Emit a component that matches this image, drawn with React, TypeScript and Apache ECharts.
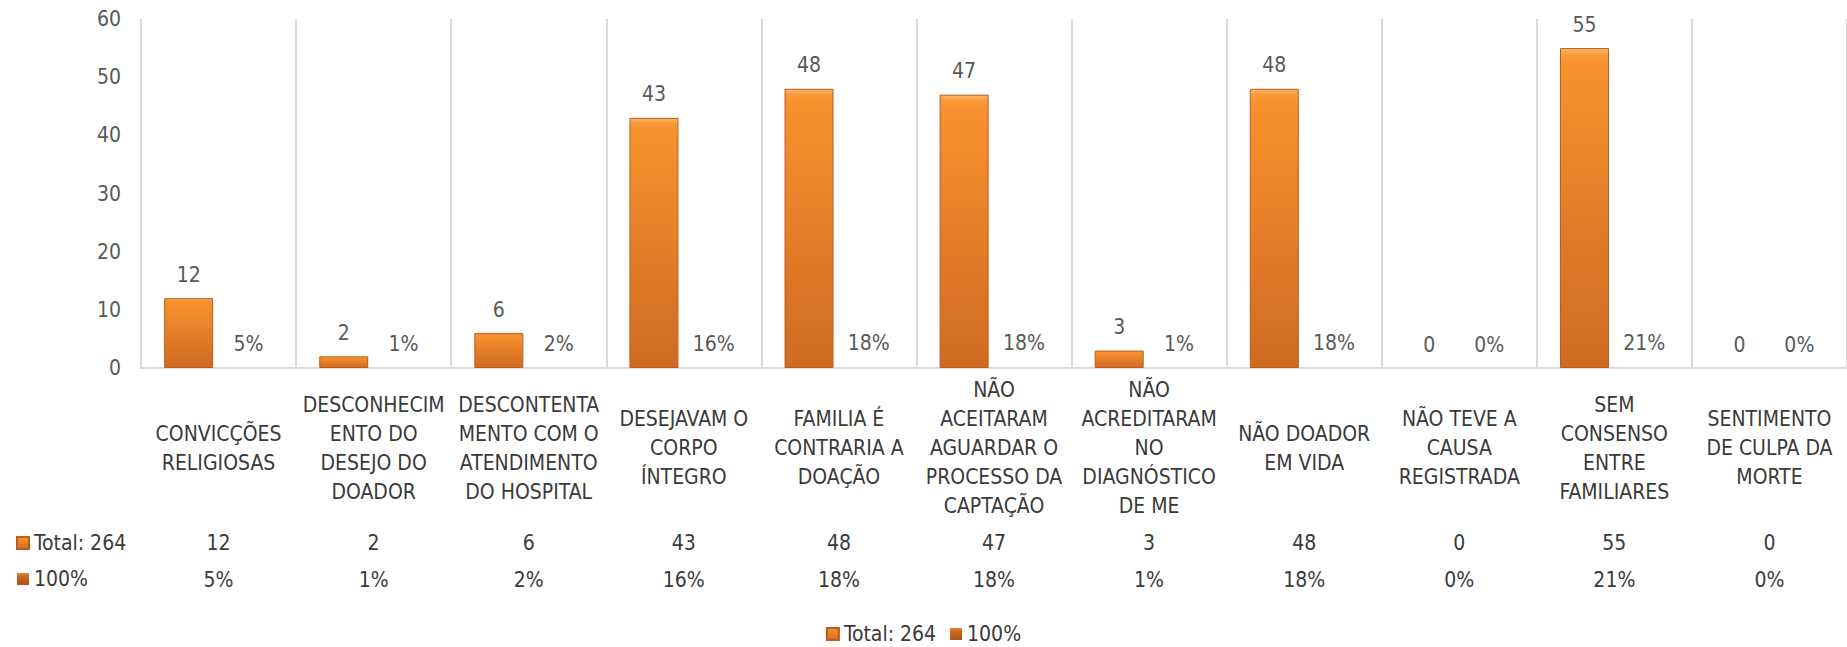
import React, { useEffect, useRef } from "react";
import * as echarts from "echarts";

const categories = [
  "CONVICÇÕES\nRELIGIOSAS",
  "DESCONHECIM\nENTO DO\nDESEJO DO\nDOADOR",
  "DESCONTENTA\nMENTO COM O\nATENDIMENTO\nDO HOSPITAL",
  "DESEJAVAM O\nCORPO\nÍNTEGRO",
  "FAMILIA É\nCONTRARIA A\nDOAÇÃO",
  "NÃO\nACEITARAM\nAGUARDAR O\nPROCESSO DA\nCAPTAÇÃO",
  "NÃO\nACREDITARAM\nNO\nDIAGNÓSTICO\nDE ME",
  "NÃO DOADOR\nEM VIDA",
  "NÃO TEVE A\nCAUSA\nREGISTRADA",
  "SEM\nCONSENSO\nENTRE\nFAMILIARES",
  "SENTIMENTO\nDE CULPA DA\nMORTE",
];
const totals = [12, 2, 6, 43, 48, 47, 3, 48, 0, 55, 0];
const percents = [5, 1, 2, 16, 18, 18, 1, 18, 0, 21, 0];
const seriesNames = ["Total: 264", "100%"];
const yTicks = { min: 0, max: 60, interval: 10 };

const FONT = "'Liberation Sans Narrow', 'DejaVu Sans Condensed', Roboto, sans-serif";
const FS = 21;
const GRAY = "#595959";
const DARK = "#3a3a3a";
const HIDDEN = { color: "rgba(0,0,0,0)", borderWidth: 0 };

export default function App() {
  const ref = useRef<HTMLDivElement>(null);
  useEffect(() => {
    const chart = echarts.init(ref.current!, null, { renderer: "svg" });
    const orangeGrad = new echarts.graphic.LinearGradient(0, 0, 0, 1, [
      { offset: 0, color: "#FCB86A" },
      { offset: 0.02, color: "#F99A3A" },
      { offset: 0.05, color: "#F8912E" },
      { offset: 1, color: "#D06A22" },
    ]);
    const brownGrad = new echarts.graphic.LinearGradient(0, 0, 0, 1, [
      { offset: 0, color: "#E08A3A" },
      { offset: 0.3, color: "#C8691E" },
      { offset: 1, color: "#A8531A" },
    ]);
    const commonAxisHidden = {
      axisLine: { show: false },
      axisTick: { show: false },
      splitLine: { show: false },
    };
    const legendText = { fontFamily: FONT, fontSize: FS, color: DARK, lineHeight: 24 };
    chart.setOption({
      animation: false,
      textStyle: { fontFamily: FONT },
      grid: { left: 141, right: -10, top: 19, bottom: 279, containLabel: false },
      legend: [
        {
          data: seriesNames,
          icon: "rect",
          left: "center",
          top: 622,
          padding: 0,
          itemWidth: 12,
          itemHeight: 12,
          itemGap: 14,
          textStyle: legendText,
        },
        {
          data: seriesNames,
          icon: "rect",
          orient: "vertical",
          left: 16,
          top: 531,
          padding: 0,
          itemWidth: 12,
          itemHeight: 12,
          itemGap: 12,
          textStyle: legendText,
        },
      ],
      xAxis: [
        {
          type: "category",
          data: categories,
          position: "bottom",
          axisLine: { show: true, lineStyle: { color: "#D9D9D9", width: 2 } },
          axisTick: { show: false },
          splitLine: { show: true, lineStyle: { color: "#D9D9D9", width: 2 } },
          axisLabel: {
            interval: 0,
            margin: 80,
            verticalAlign: "middle",
            lineHeight: 29,
            fontFamily: FONT,
            fontSize: FS,
            color: DARK,
          },
        },
        {
          type: "category",
          data: totals.map((v) => String(v)),
          position: "bottom",
          ...commonAxisHidden,
          axisLabel: {
            interval: 0,
            margin: 175,
            verticalAlign: "middle",
            fontFamily: FONT,
            fontSize: FS,
            color: DARK,
          },
        },
        {
          type: "category",
          data: percents.map((v) => v + "%"),
          position: "bottom",
          ...commonAxisHidden,
          axisLabel: {
            interval: 0,
            margin: 212,
            verticalAlign: "middle",
            fontFamily: FONT,
            fontSize: FS,
            color: DARK,
          },
        },
      ],
      yAxis: {
        type: "value",
        min: yTicks.min,
        max: yTicks.max,
        interval: yTicks.interval,
        axisLine: { show: false },
        axisTick: { show: false },
        splitLine: { show: false },
        axisLabel: { margin: 20, fontFamily: FONT, fontSize: FS, color: GRAY },
      },
      series: [
        {
          name: seriesNames[0],
          type: "bar",
          data: totals.map((v) => (v === 0 ? { value: v, itemStyle: HIDDEN } : { value: v })),
          barWidth: 49,
          barGap: "22%",
          itemStyle: { color: orangeGrad, borderColor: "#B85E1C", borderWidth: 1 },
          label: {
            show: true,
            position: "top",
            distance: 13,
            fontFamily: FONT,
            fontSize: FS,
            color: GRAY,
          },
        },
        {
          name: seriesNames[1],
          type: "bar",
          data: percents.map((v) => ({ value: v / 100, itemStyle: HIDDEN })),
          barWidth: 49,
          barGap: "22%",
          itemStyle: { color: brownGrad, borderColor: "#9A4C16", borderWidth: 0 },
          label: {
            show: true,
            position: "top",
            distance: 13,
            fontFamily: FONT,
            fontSize: FS,
            color: GRAY,
            formatter: (p: any) => percents[p.dataIndex] + "%",
          },
        },
      ],
    });
    return () => chart.dispose();
  }, []);
  return (
    <div
      ref={ref}
      style={{ position: "absolute", left: 0, top: 0, width: 1847, height: 647, background: "#fff" }}
    />
  );
}
